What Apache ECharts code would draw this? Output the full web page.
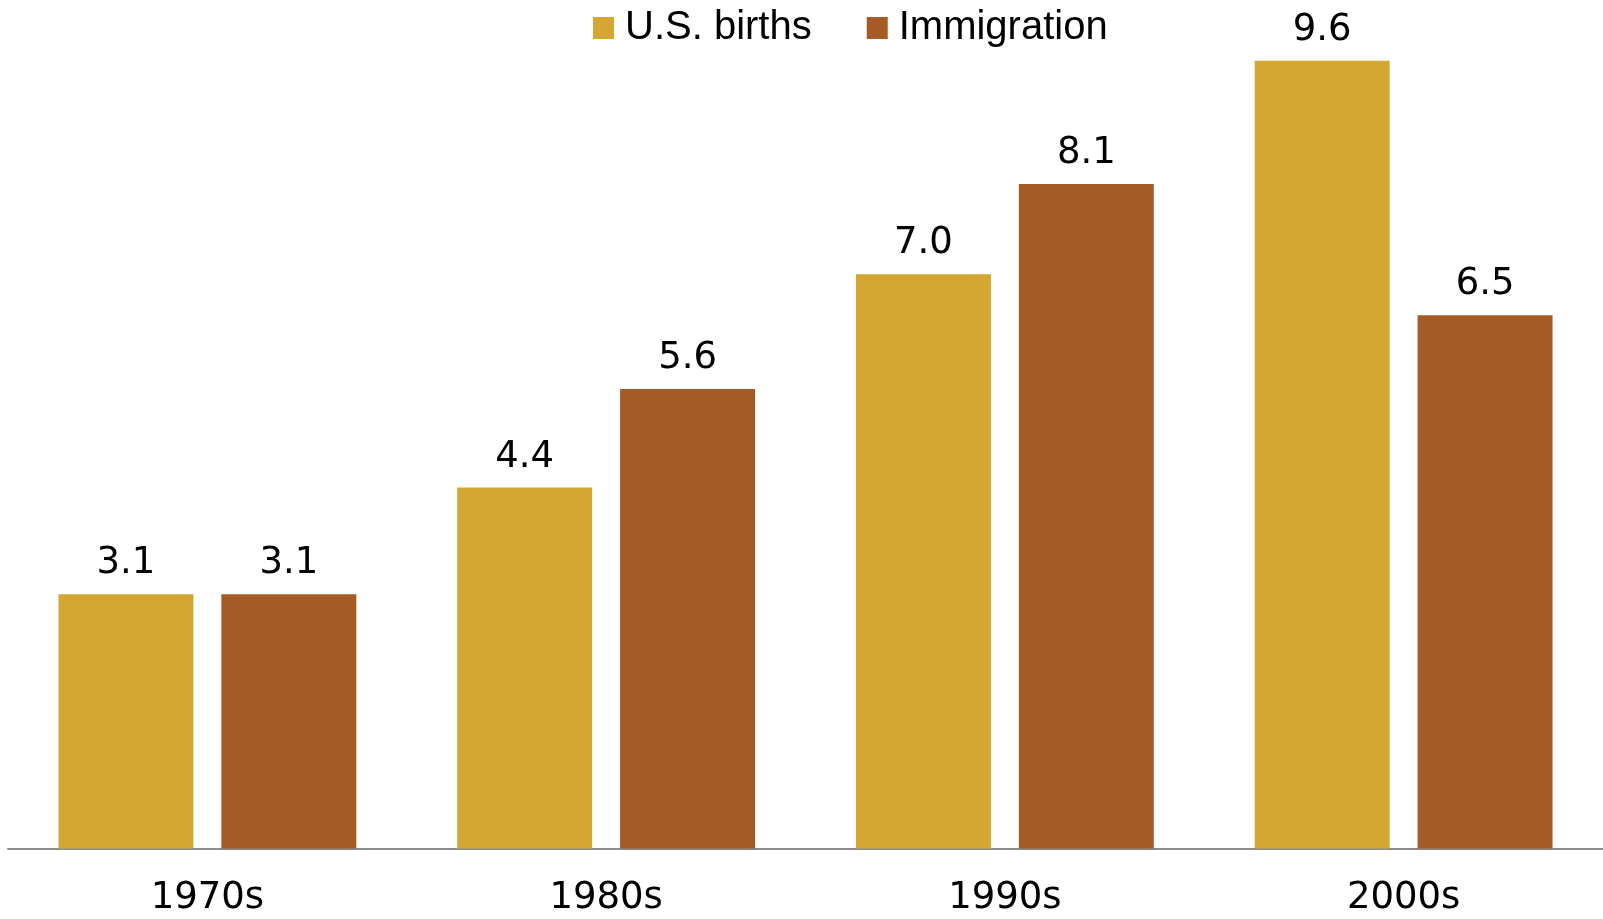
<!DOCTYPE html>
<html><head><meta charset="utf-8">
<script src="https://cdn.jsdelivr.net/npm/echarts@6/dist/echarts.min.js"></script>
<style>html,body{margin:0;padding:0;background:#fff}#c{width:1603px;height:919px}</style>
</head><body><div id="c"></div>
<script>
const categories = ['1970s', '1980s', '1990s', '2000s'];
const birthsValues = [3.1, 4.4, 7.0, 9.6];
const immigrationValues = [3.1, 5.6, 8.1, 6.5];
const seriesNames = ['U.S. births', 'Immigration'];
const colors = ['#D3A732', '#A65A26'];
const NUM_FONT = 'DejaVu Sans';
const TXT_FONT = 'Liberation Sans';

const chart = echarts.init(document.getElementById('c'));
const labelCfg = {
  show: true, position: 'top', distance: 12,
  fontFamily: NUM_FONT, fontSize: 37, color: '#000',
  formatter: p => p.value.toFixed(1)
};
chart.setOption({
  animation: false,
  color: colors,
  legend: {
    top: 3, left: 588,
    itemWidth: 21, itemHeight: 22, itemGap: 55,
    icon: 'rect',
    textStyle: { fontFamily: TXT_FONT, fontSize: 40, color: '#000', padding: [0, 0, 0, 6] },
    data: seriesNames
  },
  grid: { left: 8, right: 0, top: 28, bottom: 70.5, containLabel: false },
  xAxis: {
    type: 'category', data: categories,
    axisLine: { lineStyle: { color: '#8c8c8c', width: 2 } },
    axisTick: { show: false },
    axisLabel: { fontFamily: NUM_FONT, fontSize: 37, color: '#000', margin: 31 }
  },
  yAxis: { type: 'value', min: 0, max: 10, show: false, splitLine: { show: false } },
  series: [
    { name: seriesNames[0], type: 'bar', data: birthsValues, barGap: '20.7%', barCategoryGap: '25.3%', label: labelCfg },
    { name: seriesNames[1], type: 'bar', data: immigrationValues, label: labelCfg }
  ]
});
</script></body></html>
